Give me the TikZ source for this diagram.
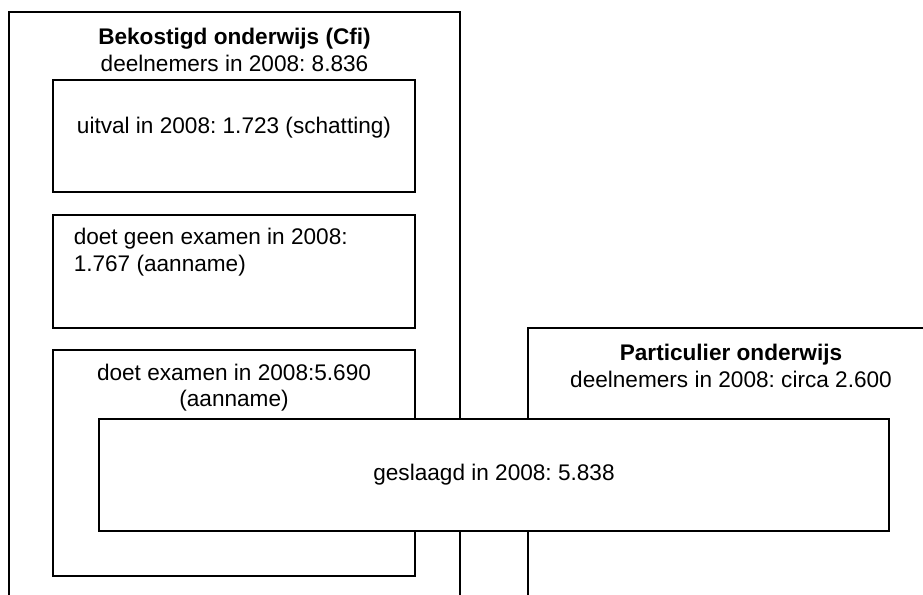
\documentclass[tikz,border=0pt]{standalone}
\usepackage{fontspec}
\setmainfont{Liberation Sans}
\frenchspacing

\begin{document}
\begin{tikzpicture}[x=0.5pt, y=-0.5pt, line width=0.75pt,
    box/.style={shape=rectangle, draw=black, fill=white, inner sep=0pt},
    txt/.style={font=\fontsize{11.3}{13.2}\selectfont, inner sep=0pt, align=center}]
\useasboundingbox (0,0) rectangle (923,595);
\coordinate (BL) at (9,600);
\coordinate (BR) at (460,600);
\coordinate (PL) at (528,600);
\coordinate (PR) at (930,328);
\draw (BL) |- (BR |- 0,12) -- (BR);
\draw (PL) |- (PR);
\node[txt] (Btitle) at (234.5,50) {\textbf{Bekostigd onderwijs (Cfi)}\\deelnemers in 2008: 8.836};
\node[txt] (Ptitle) at (731,366) {\textbf{Particulier onderwijs}\\deelnemers in 2008: circa 2.600};
\node[box, minimum width=181pt, minimum height=56pt] (uitval) at (234,136) {};
\node[txt] at (234,128) {uitval in 2008: 1.723 (schatting)};
\node[box, minimum width=181pt, minimum height=56.5pt] (geen) at (234,271.5) {};
\node[txt, anchor=west, align=left] at (73,252) {doet geen examen in 2008:\\1.767 (aanname)};
\node[box, minimum width=181pt, minimum height=113pt] (examen) at (234,463) {};
\node[txt] at (234,387.5) {doet examen in 2008:5.690\\(aanname)};
\node[box, minimum width=395pt, minimum height=56pt, font=\fontsize{11.3}{13.2}\selectfont] (geslaagd) at (494,475) {geslaagd in 2008: 5.838};
\end{tikzpicture}
\end{document}
